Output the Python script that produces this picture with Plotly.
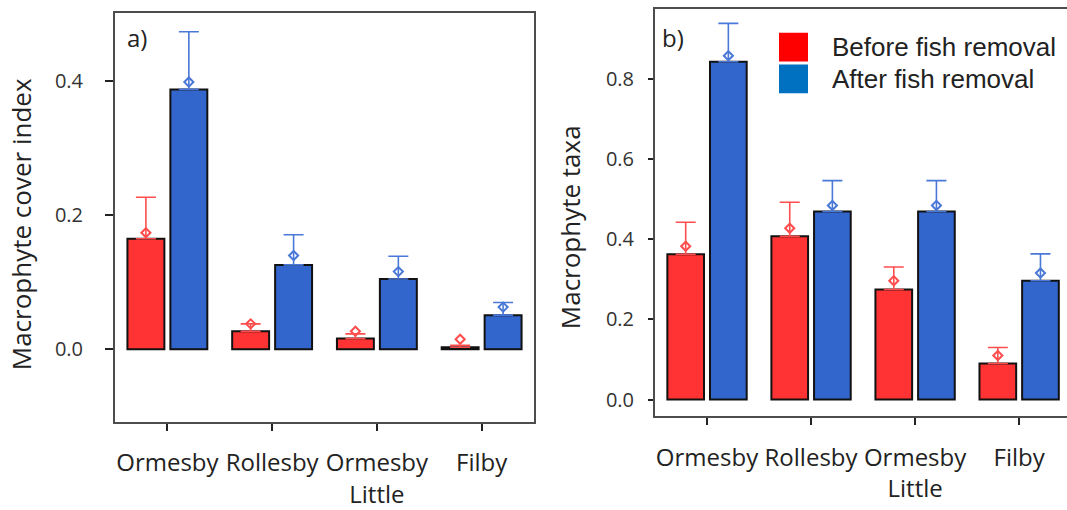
import plotly.graph_objects as go

# Lakes (third one is Ormesby Little)
lakes = ["Ormesby", "Rollesby", "Ormesby<br>Little", "Filby"]

# a) Macrophyte cover index
cover_before = [0.165, 0.027, 0.016, 0.003]
cover_after = [0.388, 0.126, 0.105, 0.051]
cover_before_upper = [0.227, 0.038, 0.023, 0.006]
cover_after_upper = [0.474, 0.171, 0.139, 0.070]
cover_before_mark = [0.174, 0.038, 0.027, 0.015]
cover_after_mark = [0.399, 0.140, 0.116, 0.063]

# b) Macrophyte taxa
taxa_before = [0.363, 0.408, 0.275, 0.090]
taxa_after = [0.844, 0.470, 0.470, 0.297]
taxa_before_upper = [0.443, 0.493, 0.331, 0.130]
taxa_after_upper = [0.940, 0.547, 0.547, 0.364]
taxa_before_mark = [0.383, 0.428, 0.297, 0.110]
taxa_after_mark = [0.859, 0.485, 0.485, 0.316]

BAR_RED = "#ff3333"
BAR_BLUE = "#3366cc"
ERR_RED = "#ff4d4d"
ERR_BLUE = "#4a78d8"
FRAME = "#4d4d4d"
FONT = "Open Sans"

fig = go.Figure()


def add_panel(before, after, b_up, a_up, b_mark, a_mark, xa, ya):
    for vals, up, fill, err, name in [
        (before, b_up, BAR_RED, ERR_RED, "Before fish removal"),
        (after, a_up, BAR_BLUE, ERR_BLUE, "After fish removal"),
    ]:
        fig.add_trace(go.Bar(
            x=lakes, y=vals, name=name, xaxis=xa, yaxis=ya,
            marker=dict(color=fill, line=dict(color="#111111", width=2)),
            error_y=dict(type="data", symmetric=False,
                         array=[u - v for u, v in zip(up, vals)],
                         arrayminus=[0] * len(vals),
                         color=err, thickness=1.6, width=10),
            offsetgroup=name, showlegend=False,
        ))
    for mark, err, name in [
        (b_mark, ERR_RED, "Before fish removal"),
        (a_mark, ERR_BLUE, "After fish removal"),
    ]:
        fig.add_trace(go.Scatter(
            x=lakes, y=mark, mode="markers", xaxis=xa, yaxis=ya,
            marker=dict(symbol="diamond-open", size=7, color=err,
                        line=dict(color=err, width=2)),
            offsetgroup=name, showlegend=False, hoverinfo="skip",
        ))


add_panel(cover_before, cover_after, cover_before_upper, cover_after_upper,
          cover_before_mark, cover_after_mark, "x", "y")
add_panel(taxa_before, taxa_after, taxa_before_upper, taxa_after_upper,
          taxa_before_mark, taxa_after_mark, "x2", "y2")

W, H = 1067, 510

xcommon = dict(type="category", showline=True, linecolor=FRAME, linewidth=2,
               ticks="outside", ticklen=7, tickwidth=2, tickcolor="#222222",
               tickfont=dict(family=FONT, size=24, color="#222222"),
               ticklabelstandoff=12, showgrid=False, zeroline=False)
ycommon = dict(showline=True, linecolor=FRAME, linewidth=2,
               ticks="outside", tickwidth=2, tickcolor="#222222",
               tickfont=dict(family=FONT, size=20, color="#333333"),
               showgrid=False, zeroline=False)

fig.update_layout(
    width=W, height=H,
    margin=dict(l=0, r=0, t=0, b=0),
    paper_bgcolor="white", plot_bgcolor="white",
    barmode="group", bargap=0.18, bargroupgap=0.14,
    scattermode="group", scattergap=0.18,
    showlegend=False,
    xaxis=dict(xcommon, domain=[115 / W, 534 / W], range=[-0.5, 3.5],
               mirror=True, anchor="y"),
    yaxis=dict(ycommon, domain=[(H - 425) / H, (H - 13.5) / H],
               range=[-0.108, 0.5015], tickvals=[0.0, 0.2, 0.4],
               ticktext=["0.0", "0.2", "0.4"], ticklen=8,
               ticklabelstandoff=18, mirror=True, anchor="x"),
    xaxis2=dict(xcommon, domain=[655 / W, 1.0], range=[-0.5, 3.46],
                mirror=True, anchor="y2"),
    yaxis2=dict(ycommon, domain=[(H - 419) / H, (H - 9) / H],
                range=[-0.0404, 0.976], tickvals=[0.0, 0.2, 0.4, 0.6, 0.8],
                ticktext=["0.0", "0.2", "0.4", "0.6", "0.8"], ticklen=5,
                ticklabelstandoff=10, mirror=False, anchor="x2"),
)

# Axis titles and panel letters
ann = dict(xref="paper", yref="paper", showarrow=False,
           font=dict(family=FONT, size=24, color="#222222"))
fig.add_annotation(ann, text="Macrophyte cover index", textangle=-90,
                   font=dict(family=FONT, size=26, color="#222222"),
                   x=21 / W, y=1 - 226 / H, xanchor="center", yanchor="middle")
fig.add_annotation(ann, text="Macrophyte taxa", textangle=-90,
                   font=dict(family=FONT, size=26, color="#222222"),
                   x=570 / W, y=1 - 229 / H, xanchor="center", yanchor="middle")
fig.add_annotation(ann, text="a)", x=125 / W, y=1 - 38 / H,
                   xanchor="left", yanchor="middle")
fig.add_annotation(ann, text="b)", x=660 / W, y=1 - 38 / H,
                   xanchor="left", yanchor="middle")

# Legend keys
legend_items = [("Before fish removal", "#ff0000", 33, 62),
                ("After fish removal", "#0070c0", 65, 94)]
for label, col, top, bot in legend_items:
    fig.add_shape(type="rect", xref="paper", yref="paper",
                  x0=779 / W, x1=808 / W, y0=1 - bot / H, y1=1 - top / H,
                  fillcolor=col, line=dict(width=0))
    fig.add_annotation(xref="paper", yref="paper", showarrow=False,
                       text=label, x=830 / W, y=1 - (top + bot) / 2 / H,
                       xanchor="left", yanchor="middle",
                       font=dict(family="Liberation Sans", size=26,
                                 color="#222222"))

fig.write_html("out.html")
